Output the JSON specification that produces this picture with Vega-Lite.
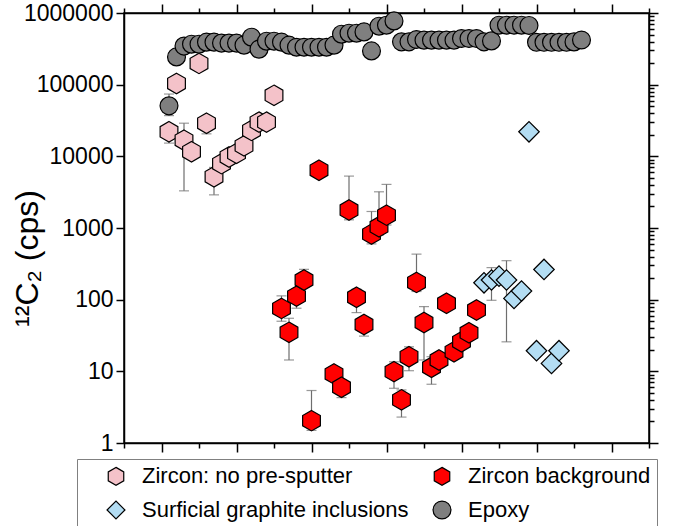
{
  "$schema": "https://vega.github.io/schema/vega-lite/v6.json",
  "width": 525,
  "height": 430,
  "autosize": "none",
  "padding": {"left": 124, "top": 13, "right": 28, "bottom": 83},
  "background": "white",
  "config": {
    "view": {"stroke": "black", "strokeWidth": 1.5},
    "font": "Liberation Sans",
    "axis": {"grid": false, "domainColor": "black", "tickColor": "black", "domainWidth": 1.5, "tickWidth": 1.5, "labelFont": "Liberation Sans", "labelColor": "black", "titleColor": "black", "titleFont": "Liberation Sans"}
  },
  "data": {"values": [
    {"g": "Zircon: no pre-sputter", "x": 6, "y": 22000, "lo": 15300, "hi": 26000},
    {"g": "Zircon: no pre-sputter", "x": 7, "y": 104000},
    {"g": "Zircon: no pre-sputter", "x": 8, "y": 16800, "lo": 3300, "hi": 29000},
    {"g": "Zircon: no pre-sputter", "x": 9, "y": 11600},
    {"g": "Zircon: no pre-sputter", "x": 10, "y": 198000},
    {"g": "Zircon: no pre-sputter", "x": 11, "y": 29000, "lo": 20600, "hi": 29000},
    {"g": "Zircon: no pre-sputter", "x": 12, "y": 5200, "lo": 2900, "hi": 7000},
    {"g": "Zircon: no pre-sputter", "x": 13, "y": 7900},
    {"g": "Zircon: no pre-sputter", "x": 14, "y": 9800},
    {"g": "Zircon: no pre-sputter", "x": 15, "y": 11000},
    {"g": "Zircon: no pre-sputter", "x": 16, "y": 14000},
    {"g": "Zircon: no pre-sputter", "x": 17, "y": 23000},
    {"g": "Zircon: no pre-sputter", "x": 18, "y": 30000},
    {"g": "Zircon: no pre-sputter", "x": 19, "y": 30000},
    {"g": "Zircon: no pre-sputter", "x": 20, "y": 71000, "lo": 58000, "hi": 80000},
    {"g": "Epoxy", "x": 6, "y": 50600, "lo": 37000, "hi": 74000},
    {"g": "Epoxy", "x": 7, "y": 244000},
    {"g": "Epoxy", "x": 8, "y": 345000},
    {"g": "Epoxy", "x": 9, "y": 367000},
    {"g": "Epoxy", "x": 10, "y": 367000},
    {"g": "Epoxy", "x": 11, "y": 392000},
    {"g": "Epoxy", "x": 12, "y": 392000},
    {"g": "Epoxy", "x": 13, "y": 380000},
    {"g": "Epoxy", "x": 14, "y": 380000},
    {"g": "Epoxy", "x": 15, "y": 380000},
    {"g": "Epoxy", "x": 16, "y": 356000},
    {"g": "Epoxy", "x": 17, "y": 460000},
    {"g": "Epoxy", "x": 18, "y": 313000},
    {"g": "Epoxy", "x": 19, "y": 404000},
    {"g": "Epoxy", "x": 20, "y": 404000},
    {"g": "Epoxy", "x": 21, "y": 392000},
    {"g": "Epoxy", "x": 22, "y": 356000},
    {"g": "Epoxy", "x": 23, "y": 333000},
    {"g": "Epoxy", "x": 24, "y": 333000},
    {"g": "Epoxy", "x": 25, "y": 333000},
    {"g": "Epoxy", "x": 26, "y": 333000},
    {"g": "Epoxy", "x": 27, "y": 333000},
    {"g": "Epoxy", "x": 28, "y": 356000},
    {"g": "Epoxy", "x": 29, "y": 506000},
    {"g": "Epoxy", "x": 30, "y": 523000},
    {"g": "Epoxy", "x": 31, "y": 523000},
    {"g": "Epoxy", "x": 32, "y": 545000},
    {"g": "Epoxy", "x": 33, "y": 296000},
    {"g": "Epoxy", "x": 34, "y": 655000},
    {"g": "Epoxy", "x": 35, "y": 676000},
    {"g": "Epoxy", "x": 36, "y": 776000},
    {"g": "Epoxy", "x": 37, "y": 396000},
    {"g": "Epoxy", "x": 38, "y": 396000},
    {"g": "Epoxy", "x": 39, "y": 427000},
    {"g": "Epoxy", "x": 40, "y": 418000},
    {"g": "Epoxy", "x": 41, "y": 418000},
    {"g": "Epoxy", "x": 42, "y": 418000},
    {"g": "Epoxy", "x": 43, "y": 418000},
    {"g": "Epoxy", "x": 44, "y": 418000},
    {"g": "Epoxy", "x": 45, "y": 441000},
    {"g": "Epoxy", "x": 46, "y": 441000},
    {"g": "Epoxy", "x": 47, "y": 441000},
    {"g": "Epoxy", "x": 48, "y": 396000},
    {"g": "Epoxy", "x": 49, "y": 408000},
    {"g": "Epoxy", "x": 50, "y": 676000},
    {"g": "Epoxy", "x": 51, "y": 676000},
    {"g": "Epoxy", "x": 52, "y": 676000},
    {"g": "Epoxy", "x": 53, "y": 676000},
    {"g": "Epoxy", "x": 54, "y": 670000},
    {"g": "Epoxy", "x": 55, "y": 390000},
    {"g": "Epoxy", "x": 56, "y": 390000},
    {"g": "Epoxy", "x": 57, "y": 390000},
    {"g": "Epoxy", "x": 58, "y": 390000},
    {"g": "Epoxy", "x": 59, "y": 390000},
    {"g": "Epoxy", "x": 60, "y": 395000},
    {"g": "Epoxy", "x": 61, "y": 420000},
    {"g": "Zircon background", "x": 21, "y": 75.5, "lo": 50, "hi": 113},
    {"g": "Zircon background", "x": 22, "y": 35, "lo": 14.4, "hi": 55},
    {"g": "Zircon background", "x": 23, "y": 112, "lo": 76, "hi": 120},
    {"g": "Zircon background", "x": 24, "y": 188, "lo": 150, "hi": 265},
    {"g": "Zircon background", "x": 25, "y": 2.05, "lo": 1.5, "hi": 5.4},
    {"g": "Zircon background", "x": 26, "y": 6400},
    {"g": "Zircon background", "x": 28, "y": 9.2},
    {"g": "Zircon background", "x": 29, "y": 6.0, "lo": 4.3, "hi": 7.5},
    {"g": "Zircon background", "x": 30, "y": 1780, "lo": 1300, "hi": 5300},
    {"g": "Zircon background", "x": 31, "y": 108, "lo": 66, "hi": 140},
    {"g": "Zircon background", "x": 32, "y": 45, "lo": 31, "hi": 55},
    {"g": "Zircon background", "x": 33, "y": 822, "lo": 600, "hi": 1700},
    {"g": "Zircon background", "x": 34, "y": 1040, "lo": 800, "hi": 3200},
    {"g": "Zircon background", "x": 35, "y": 1510, "lo": 1100, "hi": 4060},
    {"g": "Zircon background", "x": 36, "y": 9.9, "lo": 5.8, "hi": 13.6},
    {"g": "Zircon background", "x": 37, "y": 4.0, "lo": 2.3, "hi": 5.5},
    {"g": "Zircon background", "x": 38, "y": 16, "lo": 10.2, "hi": 22},
    {"g": "Zircon background", "x": 39, "y": 174, "lo": 130, "hi": 432},
    {"g": "Zircon background", "x": 40, "y": 48, "lo": 14.4, "hi": 80},
    {"g": "Zircon background", "x": 41, "y": 11.4, "lo": 6.6, "hi": 16},
    {"g": "Zircon background", "x": 42, "y": 14.4},
    {"g": "Zircon background", "x": 43, "y": 89},
    {"g": "Zircon background", "x": 44, "y": 18.8},
    {"g": "Zircon background", "x": 45, "y": 25.9},
    {"g": "Zircon background", "x": 46, "y": 34.5},
    {"g": "Zircon background", "x": 47, "y": 71.6},
    {"g": "Surficial graphite inclusions", "x": 48, "y": 172},
    {"g": "Surficial graphite inclusions", "x": 49, "y": 188, "lo": 98, "hi": 280},
    {"g": "Surficial graphite inclusions", "x": 50, "y": 213},
    {"g": "Surficial graphite inclusions", "x": 51, "y": 188, "lo": 25.8, "hi": 350},
    {"g": "Surficial graphite inclusions", "x": 52, "y": 104},
    {"g": "Surficial graphite inclusions", "x": 53, "y": 132},
    {"g": "Surficial graphite inclusions", "x": 54, "y": 22000},
    {"g": "Surficial graphite inclusions", "x": 55, "y": 19.4},
    {"g": "Surficial graphite inclusions", "x": 56, "y": 264},
    {"g": "Surficial graphite inclusions", "x": 57, "y": 12.9},
    {"g": "Surficial graphite inclusions", "x": 58, "y": 19.4}
  ]},
  "layer": [
    {
      "transform": [{"filter": "isValid(datum.lo)"}],
      "mark": {"type": "rule", "color": "#6e6e6e", "strokeWidth": 1.2},
      "encoding": {
        "x": {"field": "x", "type": "quantitative", "scale": {"domain": [0, 70], "nice": false, "zero": false},
              "axis": {"orient": "bottom", "values": [0,5,10,15,20,25,30,35,40,45,50,55,60,65,70], "labels": false, "title": null, "domain": true,
                       "tickSize": {"condition": {"test": "datum.value % 10 === 5", "value": 9}, "value": 5}}},
        "y": {"field": "lo", "type": "quantitative", "scale": {"type": "log", "domain": [1, 1000000], "nice": false},
              "axis": {"orient": "left", "values": [1,10,100,1000,10000,100000,1000000], "format": "d", "labelFontSize": 23, "tickSize": 8, "labelPadding": 3,
                       "labelOverlap": false, "labelFlush": false, "labelBaseline": "middle",
                       "title": "¹²C₂ (cps)", "titleFontSize": 32, "titleFontWeight": "normal", "titleX": -97, "titleY": 245, "titleBaseline": "middle", "titleAlign": "center", "titleAngle": 270}},
        "y2": {"field": "hi"}
      }
    },
    {
      "transform": [{"fold": ["lo", "hi"], "as": ["k", "v"]}, {"filter": "isValid(datum.v)"}],
      "mark": {"type": "tick", "orient": "horizontal", "color": "#6e6e6e", "thickness": 1.2, "size": 10},
      "encoding": {
        "x": {"field": "x", "type": "quantitative", "axis": null},
        "y": {"field": "v", "type": "quantitative", "axis": null}
      }
    },
    {
      "transform": [{"filter": "datum.g !== 'Epoxy'"}],
      "mark": {"type": "point", "filled": false, "stroke": "black", "strokeWidth": 1.2, "opacity": 1, "fillOpacity": 1, "strokeOpacity": 1, "size": 420},
      "encoding": {
        "x": {"field": "x", "type": "quantitative",
              "axis": {"orient": "top", "values": [0,5,10,15,20,25,30,35,40,45,50,55,60,65,70], "labels": false, "title": null, "domain": true,
                       "tickSize": {"condition": {"test": "datum.value % 10 === 5", "value": 9}, "value": 5}}},
        "y": {"field": "y", "type": "quantitative",
              "axis": {"orient": "right", "labels": false, "title": null,
                       "values": [1,2,3,4,5,6,7,8,9,10,20,30,40,50,60,70,80,90,100,200,300,400,500,600,700,800,900,1000,2000,3000,4000,5000,6000,7000,8000,9000,10000,20000,30000,40000,50000,60000,70000,80000,90000,100000,200000,300000,400000,500000,600000,700000,800000,900000,1000000],
                       "tickSize": {"condition": {"test": "abs(log(datum.value)/LN10 - round(log(datum.value)/LN10)) < 0.000001", "value": 9}, "value": 5}}},
        "fill": {"field": "g", "type": "nominal", "title": null,
                 "scale": {"domain": ["Zircon: no pre-sputter", "Zircon background", "Surficial graphite inclusions", "Epoxy"], "range": ["#F4C2C9", "#FF0000", "#B3DDF3", "#7F7F7F"]},
                 "legend": {"orient": "none", "legendX": -47, "legendY": 446, "direction": "horizontal", "columns": 2, "gridAlign": "each", "strokeColor": "#808080", "fillColor": "white", "padding": 6,
                            "labelFontSize": 22, "labelFont": "Liberation Sans", "labelColor": "black", "labelLimit": 0, "symbolSize": 320, "symbolStrokeWidth": 1.2,
                            "labelOffset": 15, "columnPadding": 0, "rowPadding": 10, "symbolOffset": 22}},
        "shape": {"field": "g", "type": "nominal", "title": null,
                  "scale": {"domain": ["Zircon: no pre-sputter", "Zircon background", "Surficial graphite inclusions", "Epoxy"], "range": ["M0,-1L0.866,-0.5L0.866,0.5L0,1L-0.866,0.5L-0.866,-0.5Z", "M0,-1L0.866,-0.5L0.866,0.5L0,1L-0.866,0.5L-0.866,-0.5Z", "diamond", "circle"]},
                  "legend": {"orient": "none", "legendX": -47, "legendY": 446, "direction": "horizontal", "columns": 2, "gridAlign": "each", "strokeColor": "#808080", "fillColor": "white", "padding": 6,
                            "labelFontSize": 22, "labelFont": "Liberation Sans", "labelColor": "black", "labelLimit": 0, "symbolSize": 320, "symbolStrokeWidth": 1.2,
                            "labelOffset": 15, "columnPadding": 0, "rowPadding": 10, "symbolOffset": 22}}
      }
    },
    {
      "transform": [{"filter": "datum.g === 'Epoxy'"}],
      "mark": {"type": "point", "filled": false, "stroke": "black", "strokeWidth": 1.2, "opacity": 1, "fillOpacity": 1, "strokeOpacity": 1, "size": 320},
      "encoding": {
        "x": {"field": "x", "type": "quantitative", "axis": null},
        "y": {"field": "y", "type": "quantitative", "axis": null},
        "fill": {"field": "g", "type": "nominal", "title": null},
        "shape": {"field": "g", "type": "nominal", "title": null}
      }
    }
  ],
  "resolve": {"axis": {"x": "independent", "y": "independent"}}
}
